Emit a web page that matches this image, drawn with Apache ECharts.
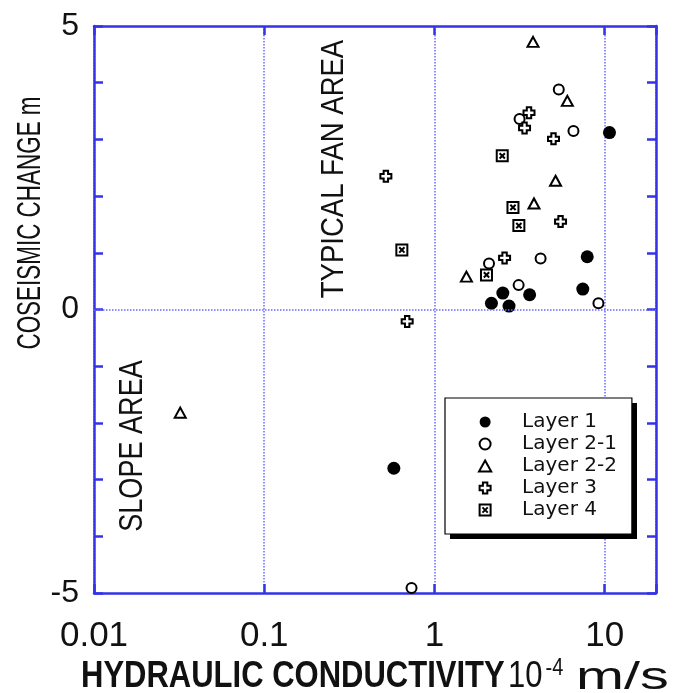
<!DOCTYPE html>
<html>
<head>
<meta charset="utf-8">
<script src="https://cdn.jsdelivr.net/npm/echarts@6/dist/echarts.min.js"></script>
<style>
html,body{margin:0;padding:0;background:#fff;}
#chart{width:674px;height:693px;}
</style>
</head>
<body>
<div id="chart"></div>
<script>
// ---- data (hydraulic conductivity [1e-4 m/s], coseismic change [m]) ----
const xTickLabels = ['0.01', '0.1', '1', '10'];
const yTickLabels = ['-5', '0', '5'];
const seriesNames = ['Layer 1', 'Layer 2-1', 'Layer 2-2', 'Layer 3', 'Layer 4'];
const layer1 = [[10.66, 3.12], [7.89, 0.93], [7.43, 0.36], [2.52, 0.29], [3.62, 0.26], [2.16, 0.11], [2.74, 0.06], [0.577, -2.80]];
const layer2_1 = [[5.37, 3.88], [3.16, 3.36], [6.55, 3.15], [2.09, 0.81], [4.20, 0.90], [3.12, 0.43], [9.18, 0.11], [0.733, -4.91]];
const layer2_2 = [[3.79, 4.72], [6.03, 3.68], [5.14, 2.27], [3.84, 1.87], [1.54, 0.58], [0.0321, -1.82]];
const layer3 = [[3.59, 3.47], [3.38, 3.20], [5.00, 3.01], [5.50, 1.55], [2.58, 0.91], [0.518, 2.35], [0.691, -0.21]];
const layer4 = [[2.50, 2.71], [2.89, 1.80], [3.13, 1.48], [2.02, 0.61], [0.643, 1.05]];
const xTitle = 'HYDRAULIC CONDUCTIVITY';
const xUnitBase = '10';
const xUnitExp = '-4';
const xUnit = 'm/s';
const yTitle = 'COSEISMIC CHANGE m';
const fanText = 'TYPICAL FAN AREA';
const slopeText = 'SLOPE AREA';

// ---- styles ----
const AXIS_BLUE = '#3434e6';
const GRID_BLUE = '#6a6aff';
const trianglePath = 'path://M5,0L10,9L0,9Z';
const crossPath = 'path://M3,0L7,0L7,3L10,3L10,7L7,7L7,10L3,10L3,7L0,7L0,3L3,3Z';
const boxXPath = 'path://M0,0L10,0L10,10L0,10Z M2.6,2.6L7.4,7.4 M7.4,2.6L2.6,7.4';

const chart = echarts.init(document.getElementById('chart'), null, {renderer: 'canvas'});

function findLabel(v, labels) {
  return labels.find(l => Math.abs(parseFloat(l) - v) < 1e-9 * Math.max(1, Math.abs(v)));
}

const xAxisBase = {
  type: 'log', logBase: 10, min: 0.01, max: 20,
  axisLine: {show: true, onZero: false, lineStyle: {color: AXIS_BLUE, width: 2.5}},
  axisTick: {show: true, inside: true, length: 9, lineStyle: {color: AXIS_BLUE, width: 2.5}},
  minorTick: {show: false}, minorSplitLine: {show: false}
};
const yAxisBase = {
  type: 'value', min: -5, max: 5, interval: 1,
  axisLine: {show: true, onZero: false, lineStyle: {color: AXIS_BLUE, width: 2.5}},
  axisTick: {show: true, inside: true, length: 9, lineStyle: {color: AXIS_BLUE, width: 2.5}},
  splitLine: {show: false}
};

const symStyleOpen = {color: '#fff', borderColor: '#000', borderWidth: 2, opacity: 1};
const LEG = {left: 445, top: 398, width: 187, height: 136};

const option = {
  backgroundColor: '#fff',
  animation: false,
  grid: {left: 94, right: 18, top: 26, bottom: 100, containLabel: false},
  xAxis: [
    Object.assign({}, xAxisBase, {
      position: 'bottom',
      axisLabel: {
        show: true, margin: 26, color: '#111', fontSize: 35,
        fontFamily: 'Liberation Sans, Arial, sans-serif',
        showMinLabel: true, showMaxLabel: true,
        formatter: v => findLabel(v, xTickLabels) || ''
      },
      splitLine: {show: true, lineStyle: {color: GRID_BLUE, width: 1.5, type: [1.5, 1.5]}}
    }),
    Object.assign({}, xAxisBase, {
      position: 'top',
      axisLabel: {show: false},
      splitLine: {show: false}
    })
  ],
  yAxis: [
    Object.assign({}, yAxisBase, {
      position: 'left',
      axisLabel: {
        show: true, margin: 15, color: '#111', fontSize: 32,
        fontFamily: 'Liberation Sans, Arial, sans-serif',
        padding: [0, 0, 8, 0],
        formatter: v => findLabel(v, yTickLabels) || ''
      }
    }),
    Object.assign({}, yAxisBase, {
      position: 'right',
      axisLabel: {show: false}
    })
  ],
  legend: {
    show: true,
    z: 10,
    orient: 'vertical',
    left: LEG.left, top: LEG.top,
    padding: [14, 15, 14, 33],
    itemWidth: 14, itemHeight: 11, itemGap: 2,
    symbolKeepAspect: true,
    selectedMode: false,
    backgroundColor: '#fff',
    borderColor: '#000', borderWidth: 1.2, borderRadius: 0,
    textStyle: {color: '#111', fontSize: 20, lineHeight: 20, fontFamily: 'DejaVu Sans, sans-serif',
      padding: [0, 0, 0, 25]},
    data: seriesNames
  },
  series: [
    {
      name: seriesNames[0], type: 'scatter', data: layer1,
      symbol: 'circle', symbolSize: 13,
      itemStyle: {color: '#000', borderColor: '#000', borderWidth: 0, opacity: 1},
      markLine: {
        silent: true, symbol: ['none', 'none'], animation: false,
        label: {show: false},
        emphasis: {disabled: true},
        lineStyle: {color: GRID_BLUE, width: 1.5, type: [1.5, 1.5]},
        data: [{yAxis: 0}]
      }
    },
    {
      name: seriesNames[1], type: 'scatter', data: layer2_1,
      symbol: 'circle', symbolSize: 10,
      itemStyle: symStyleOpen
    },
    {
      name: seriesNames[2], type: 'scatter', data: layer2_2,
      symbol: trianglePath, symbolSize: [11, 10],
      itemStyle: symStyleOpen
    },
    {
      name: seriesNames[3], type: 'scatter', data: layer3,
      symbol: crossPath, symbolSize: 11,
      itemStyle: symStyleOpen
    },
    {
      name: seriesNames[4], type: 'scatter', data: layer4,
      symbol: boxXPath, symbolSize: 11,
      itemStyle: {color: '#fff', borderColor: '#000', borderWidth: 2, opacity: 1}
    }
  ],
  graphic: [
    {
      // legend drop shadow
      type: 'rect', z: 1, silent: true,
      shape: {x: LEG.left + 5, y: LEG.top + 5, width: LEG.width, height: LEG.height},
      style: {fill: '#000'}
    },
    {
      type: 'text', x: 31, y: 223, rotation: Math.PI / 2, scaleX: 0.66, scaleY: 1,
      style: {text: yTitle, fill: '#111', font: '34px "Liberation Sans", Arial, sans-serif',
        align: 'center', verticalAlign: 'middle', textAlign: 'center', textVerticalAlign: 'middle'}
    },
    {
      type: 'text', x: 334, y: 169, rotation: Math.PI / 2, scaleX: 0.86, scaleY: 1,
      style: {text: fanText, fill: '#111', font: '32px "Liberation Sans", Arial, sans-serif',
        align: 'center', verticalAlign: 'middle', textAlign: 'center', textVerticalAlign: 'middle'}
    },
    {
      type: 'text', x: 133, y: 446, rotation: Math.PI / 2, scaleX: 0.82, scaleY: 1,
      style: {text: slopeText, fill: '#111', font: '33px "Liberation Sans", Arial, sans-serif',
        align: 'center', verticalAlign: 'middle', textAlign: 'center', textVerticalAlign: 'middle'}
    },
    {
      type: 'text', x: 81, y: 677, scaleX: 1, scaleY: 1.2,
      style: {
        text: '{b|' + xTitle + '} {n|' + xUnitBase + '}{s|' + xUnitExp + '}',
        fill: '#111',
        align: 'left', verticalAlign: 'middle', textAlign: 'left', textVerticalAlign: 'middle',
        rich: {
          b: {fontSize: 31, fontWeight: 'bold', fontFamily: 'Liberation Sans, Arial, sans-serif', fill: '#111'},
          n: {fontSize: 31, fontFamily: 'Liberation Sans, Arial, sans-serif', fill: '#111'},
          s: {fontSize: 20, fontFamily: 'Liberation Sans, Arial, sans-serif', fill: '#111', padding: [0, 0, 15, 3]}
        }
      }
    },
    {
      type: 'text', x: 576, y: 678, scaleX: 1.6, scaleY: 1.1,
      style: {
        text: xUnit, fill: '#111', font: '36px "Liberation Sans", Arial, sans-serif',
        align: 'left', verticalAlign: 'middle', textAlign: 'left', textVerticalAlign: 'middle'
      }
    }
  ]
};
chart.setOption(option);
</script>
</body>
</html>
